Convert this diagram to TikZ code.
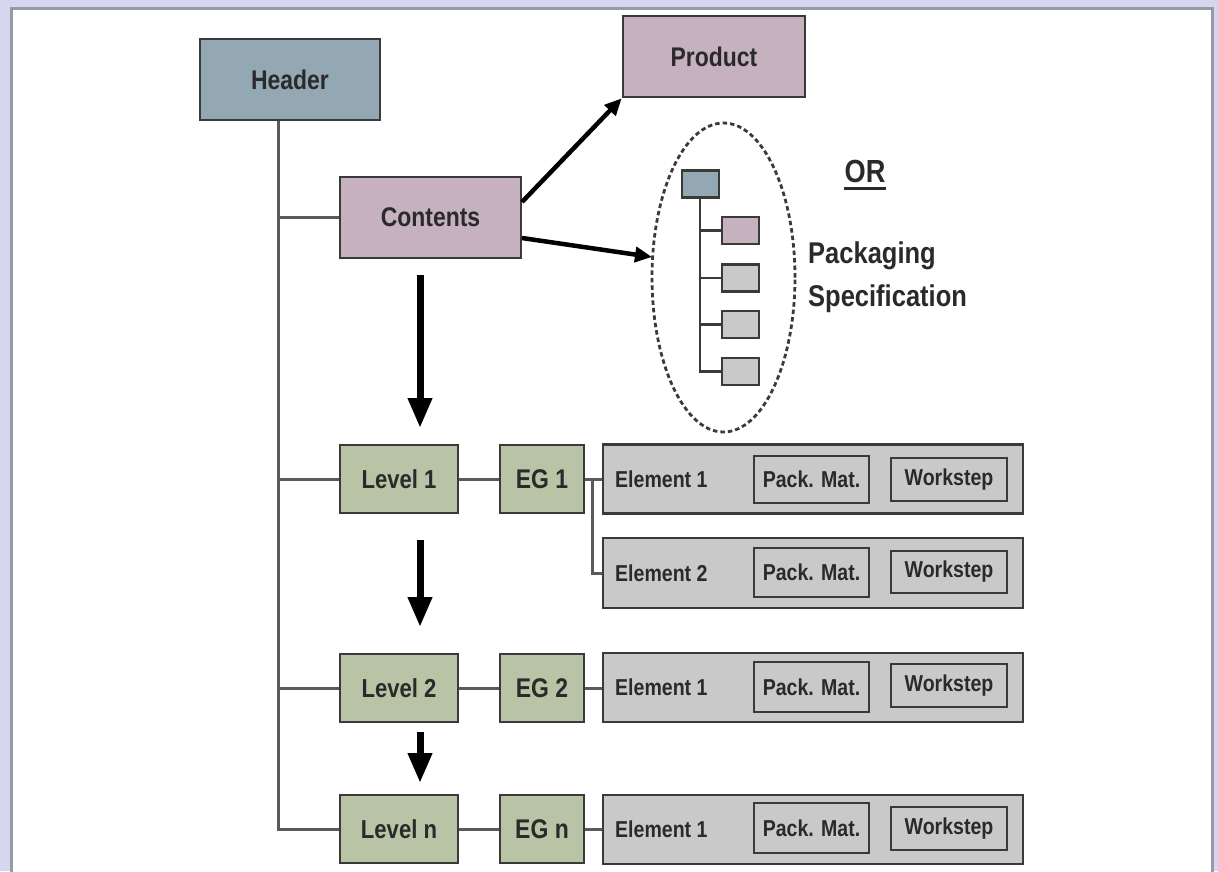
\documentclass[tikz,border=0pt]{standalone}
\usepackage{fontspec}
\usetikzlibrary{shapes.geometric,arrows.meta}
\newfontfamily\lab[FakeStretch=0.85]{Liberation Sans}
\definecolor{bgout}{HTML}{D6D6EE}
\definecolor{framegray}{HTML}{9A9AA6}
\definecolor{hdrfill}{HTML}{94A8B4}
\definecolor{mauve}{HTML}{C6B2BE}
\definecolor{lvlfill}{HTML}{B9C4A6}
\definecolor{elfill}{HTML}{C9C9C9}
\definecolor{bord}{HTML}{3A3A3A}
\definecolor{txt}{HTML}{2A2A2A}
\definecolor{conncol}{HTML}{5A5A5A}
\tikzset{
  box/.style={draw=bord, line width=2.6pt, inner sep=0pt, text=txt,
     font=\lab\bfseries\fontsize{27}{30}\selectfont},
  hdr/.style={box, fill=hdrfill, minimum width=180pt, minimum height=81pt},
  mbox/.style={box, fill=mauve, minimum width=182pt, minimum height=81pt},
  lvl/.style={box, fill=lvlfill, minimum width=118pt, minimum height=68pt,
     font=\lab\bfseries\fontsize{26}{30}\selectfont},
  egbox/.style={box, fill=lvlfill, minimum width=84pt, minimum height=68pt},
  elbox/.style={box, fill=elfill, minimum width=420pt, minimum height=69pt},
  inbox/.style={box, fill=elfill, minimum width=115pt,
     font=\lab\bfseries\fontsize{23}{26}\selectfont},
  eltext/.style={anchor=west, inner sep=0pt, text=txt,
     font=\lab\bfseries\fontsize{23}{26}\selectfont},
  mini/.style={draw=bord, line width=2.2pt, minimum width=37pt, minimum height=27pt, inner sep=0pt},
  conn/.style={draw=conncol, line width=3pt},
  bigarrow/.style={line width=7pt, -{Triangle[width=23pt,length=30pt]}},
  midarrow/.style={line width=4.5pt, -{Triangle[width=15pt,length=17pt]}},
}
\begin{document}
\begin{tikzpicture}[x=1pt,y=-1pt]
\useasboundingbox (0,0) rectangle (1218,871);
\fill[bgout] (0,0) rectangle (1218,871);
\draw[framegray, line width=3pt, fill=white] (11,8) rectangle (1212,878);

% top boxes
\node[hdr] (header) at (290,79.5) {Header};
\node[mbox, minimum width=182pt] (product) at (714,56.5) {Product};
\node[mbox, minimum width=181pt] (contents) at (430.5,217.5) {Contents};

% trunk
\coordinate (tx) at (278,0);

% levels
\node[lvl] (lv1) at (399,479) {Level 1};
\node[egbox] (eg1) at (542,479) {EG 1};
\node[lvl] (lv2) at (399,688) {Level 2};
\node[egbox] (eg2) at (542,688) {EG 2};
\node[lvl] (lvn) at (399,829) {Level n};
\node[egbox] (egn) at (542,829) {EG n};

% element rows
\node[elbox] (r1) at (813,479) {};
\node[eltext] (r1t) at (615,479) {Element 1};
\node[inbox, minimum height=47pt] (r1p) at (811.5,479.5) {Pack. Mat.};
\node[inbox, minimum width=116pt, minimum height=43pt] (r1w) at (949,479.5) {Workstep};

\node[elbox, minimum height=70pt] (r2) at (813,573) {};
\node[eltext] (r2t) at (615,573) {Element 2};
\node[inbox, minimum height=49pt] (r2p) at (811.5,572.5) {Pack. Mat.};
\node[inbox, minimum width=116pt, minimum height=42pt] (r2w) at (949,572) {Workstep};

\node[elbox] (r3) at (813,687.5) {};
\node[eltext] (r3t) at (615,687.5) {Element 1};
\node[inbox, minimum height=50pt] (r3p) at (811.5,687) {Pack. Mat.};
\node[inbox, minimum width=116pt, minimum height=43pt] (r3w) at (949,685.5) {Workstep};

\node[elbox] (r4) at (813,829.5) {};
\node[eltext] (r4t) at (615,829.5) {Element 1};
\node[inbox, minimum height=50pt] (r4p) at (811.5,828) {Pack. Mat.};
\node[inbox, minimum width=116pt, minimum height=43pt] (r4w) at (949,828.5) {Workstep};

% connectors
\draw[conn] (header.south -| tx) -- (tx |- lvn.west) -- (lvn.west);
\draw[conn] (tx |- contents.west) -- (contents.west);
\draw[conn] (tx |- lv1.west) -- (lv1.west);
\draw[conn] (tx |- lv2.west) -- (lv2.west);
\draw[conn] (lv1.east) -- (eg1.west);
\draw[conn] (lv2.east) -- (eg2.west);
\draw[conn] (lvn.east) -- (egn.west);
\draw[conn] (eg1.east) -- (r1.west);
\draw[conn] (eg2.east) -- (eg2.east -| r3.west);
\draw[conn] (egn.east) -- (egn.east -| r4.west);
\coordinate (bx) at (592,0);
\draw[conn] (bx |- r1.west) -- (bx |- r2.west) -- (r2.west);

% big down arrows
\coordinate (a1s) at (420,275);
\coordinate (a1e) at (420,428);
\coordinate (a2s) at (420,540);
\coordinate (a2e) at (420,627);
\coordinate (a3s) at (420,732);
\coordinate (a3e) at (420,783);
\draw[bigarrow] (a1s) -- (a1e);
\draw[bigarrow] (a2s) -- (a2e);
\draw[bigarrow] (a3s) -- (a3e);

% packaging specification
\node[ellipse, draw=bord, dashed, dash pattern=on 4.5pt off 3pt, line width=2.8pt,
      minimum width=143pt, minimum height=309pt, inner sep=0pt] (ell) at (723.5,277.5) {};
\node[mini, fill=hdrfill] (ps0) at (700.5,184) {};
\node[mini, fill=mauve] (ps1) at (740.5,230.5) {};
\node[mini, fill=elfill] (ps2) at (740.5,278) {};
\node[mini, fill=elfill] (ps3) at (740.5,324.5) {};
\node[mini, fill=elfill] (ps4) at (740.5,371.5) {};
\coordinate (px) at (700,0);
\draw[draw=bord, line width=2.4pt] (ps0.south -| px) -- (px |- ps4.west) -- (ps4.west);
\draw[draw=bord, line width=2.4pt] (px |- ps1.west) -- (ps1.west);
\draw[draw=bord, line width=2.4pt] (px |- ps2.west) -- (ps2.west);
\draw[draw=bord, line width=2.4pt] (px |- ps3.west) -- (ps3.west);

\node[inner sep=0pt, text=txt, font=\lab\bfseries\fontsize{32}{36}\selectfont] (or) at (865,171) {OR};
\draw[txt, line width=3pt] (or.west |- 0,188) -- (or.east |- 0,188);
\node[anchor=west, align=left, inner sep=0pt, text=txt,
      font=\lab\bfseries\fontsize{30}{43}\selectfont] (pstext) at (808,277) {Packaging\\Specification};

% arrows from contents
\coordinate (c1) at (522,202);
\coordinate (c2) at (522,238);
\coordinate (et) at (652,257);
\draw[midarrow] (c1) -- (product.south west);
\draw[midarrow] (c2) -- (et);
\end{tikzpicture}
\end{document}
